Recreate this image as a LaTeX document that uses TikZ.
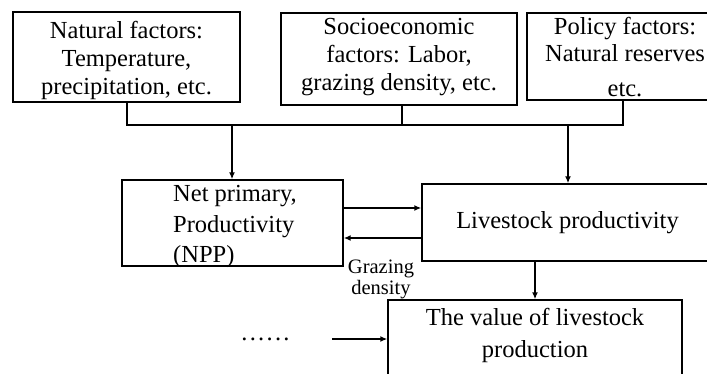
\documentclass[tikz,border=0pt]{standalone}
\usepackage{fontspec}
\setmainfont{Liberation Serif}
\usetikzlibrary{arrows.meta}
\begin{document}
\begin{tikzpicture}[x=1pt,y=-1pt,
  every node/.style={font=\fontsize{24.5}{28}\selectfont},
  box/.style={draw,line width=1.4pt,inner sep=0pt},
  txt/.style={align=center,inner sep=0pt},
  wire/.style={line width=1.4pt},
  arr/.style={line width=1.4pt,-{Latex[length=7pt,width=6pt]}},
  small/.style={font=\fontsize{20.5}{21}\selectfont,align=center,inner sep=0pt}]
\useasboundingbox (0,0) rectangle (707,374);
\clip (0,0) rectangle (707,374);
% top boxes
\node[box,minimum width=227pt,minimum height=90pt] (nat) at (126.5,57) {};
\node[txt] (natt) at (126.5,60) {Natural factors:\\Temperature,\\precipitation, etc.};
\node[box,minimum width=236pt,minimum height=92pt] (soc) at (399,59) {};
\node[txt] (soct) at (399,57.5) {Socioeconomic\\factors: Labor,\\grazing density, etc.};
\node[box,minimum width=196pt,minimum height=87pt] (pol) at (625,56.5) {};
\node[txt,font=\fontsize{24.5}{27}\selectfont] (polt) at (625,57.5) {Policy factors:\\Natural reserves\\[8pt]etc.};
% middle boxes
\node[box,minimum width=221pt,minimum height=86pt] (npp) at (232.5,223) {};
\node[align=left,inner sep=0pt,anchor=west,font=\fontsize{24.5}{30.5}\selectfont] (npptext) at (173,226.5) {Net primary,\\Productivity\\(NPP)};
\node[box,minimum width=291pt,minimum height=77pt] (ls) at (567.5,222.5) {};
\node[txt] (lst) at (567.5,222.5) {Livestock productivity};
% bottom box
\node[box,minimum width=294pt,minimum height=84pt] (val) at (535,342) {};
\node[txt,font=\fontsize{24.5}{32}\selectfont] (valt) at (535,335) {The value of livestock\\production};
\node[inner sep=0pt] (dots) at (265.5,339) {.\kern2.3pt.\kern2.3pt.\kern2.3pt.\kern2.3pt.\kern2.3pt.};
\coordinate (dstart) at (332,339);
% bus
\coordinate (bus1) at (127,125);
\coordinate (bus2) at (402,125);
\coordinate (bus3) at (623,125);
\draw[wire] (nat.south -| bus1) -- (bus1) -- (bus3) -- (pol.south -| bus3);
\draw[wire] (soc.south -| bus2) -- (bus2);
\coordinate (d1) at (232,125);
\coordinate (d2) at (568,125);
\draw[arr] (d1) -- (d1 |- npp.north);
\draw[arr] (d2) -- (d2 |- ls.north);
% between middle boxes
\draw[arr] (npp.east |- 0,208) -- (ls.west |- 0,208);
\draw[arr] (ls.west |- 0,238) -- (npp.east |- 0,238);
\node[small] (graz) at (381,279.5) {Grazing\\density};
% to value
\draw[arr] (ls.south -| val.north) -- (val.north);
\draw[arr] (dstart) -- (val.west |- dstart);
\end{tikzpicture}
\end{document}
